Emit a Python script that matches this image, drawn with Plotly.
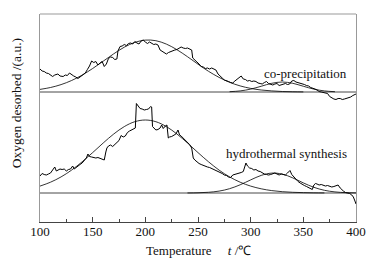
import plotly.graph_objects as go

# ---------------- data ----------------
# co-precipitation TPD trace (arbitrary units)
T_cop = [100, 102, 104, 106, 108, 110, 112, 114, 117, 119, 122, 124, 126, 128, 130, 132, 134, 136, 138, 141,
         143, 145, 147, 149, 151, 153, 155, 157, 159, 161, 163, 165, 167, 169, 171, 173, 174, 176, 178, 180,
         182, 184, 186, 188, 190, 192, 194, 196, 198, 200, 202, 204, 206, 208, 210, 212, 214, 216, 218, 220,
         222, 224, 226, 228, 230, 232, 234, 236, 238, 240, 242, 244, 245, 247, 249, 251, 253, 255, 257, 259,
         261, 263, 265, 267, 269, 271, 273, 275, 277, 279, 281, 283, 285, 287, 289, 291, 293, 295, 297, 299,
         301, 303, 305, 307, 309, 311, 313, 315, 317, 319, 321, 323, 325, 327, 329, 331, 333, 335, 337, 339,
         341, 343, 345, 347, 349, 351, 353, 355, 357, 359, 361, 363, 365, 367, 369, 371, 373, 375, 377, 379,
         381, 383, 385, 387, 389, 391, 393, 395, 397, 400]
V_cop = [153, 151, 150.5, 149, 148.5, 147, 145.5, 147, 148, 146, 145.5, 147, 146.5, 149, 147, 146, 145, 143.5, 145, 147,
         149, 152.5, 156, 161, 159.5, 160.5, 157, 159, 160.5, 155.5, 158, 163.5, 165, 164.5, 162.5, 163, 171, 175.5, 176, 177.5,
         176.5, 178.5, 179, 178, 180.5, 179, 178, 181, 182, 180, 178.5, 180, 179, 177.5, 178, 177, 172, 170.5, 169, 168,
         169.5, 170.5, 171, 172, 172.5, 174, 175, 174, 173.5, 174, 173, 172, 164, 161.5, 160, 158, 155.5, 155, 153.5, 154,
         153, 154, 153, 152, 148, 145.5, 144, 142, 141.5, 140.5, 139.5, 139, 141, 143, 144, 146, 143, 142.5, 141, 141.5,
         140.5, 141, 140.5, 139, 138.5, 138, 139.5, 140.5, 138.5, 137.5, 137, 138, 138.5, 136.5, 137, 138, 138.5, 137.5, 138, 141,
         141.5, 140, 139.5, 138.5, 138, 137.5, 136.5, 136, 134.5, 134, 133, 132, 130.5, 130, 129.5, 129, 128.5, 125.5, 124, 123,
         122.5, 123.5, 123.5, 122.5, 123, 123.5, 124.5, 125, 126.5, 128]

# hydrothermal-synthesis TPD trace (arbitrary units)
T_hyd = [100, 102, 104, 106, 108, 110, 112, 114, 115.5, 117, 119, 121, 123, 125, 127, 129, 131, 132.5, 134, 136,
         138, 140, 142, 144, 145.5, 147, 149, 151, 153, 155, 157, 159, 161, 162.5, 163.5, 165, 167, 169, 171, 173,
         175, 177, 179, 181, 183, 185, 187, 189, 190.5, 191.5, 193, 195, 197, 199, 201, 203, 205, 206, 206.8, 208,
         210, 212, 214, 215.5, 217, 219, 220.5, 221.8, 223, 225, 227, 229, 231, 232.5, 234, 236, 238, 240, 242, 244,
         245.5, 247, 249, 251, 253, 255, 257, 259, 261, 263, 265, 267, 269, 271, 273, 275, 277, 279, 281, 283,
         285, 287, 289, 291, 293, 295.5, 297, 299, 301, 303, 305, 307, 309, 311, 313, 315, 317, 319, 321, 323,
         325, 327, 329, 331, 333, 335, 337.3, 339, 341, 343, 345, 347, 349, 351, 353, 355, 357, 358.5, 360, 361.5,
         363, 365, 367, 369, 371, 373, 375, 377, 379, 381, 383, 385, 386.5, 388, 390, 392, 394, 396, 397.5, 399, 400]
V_hyd = [46, 48.5, 47.5, 47, 48, 49, 52, 55, 51, 52, 53, 52.5, 53, 51, 52.5, 53, 56, 53, 54, 55.5,
         57.5, 59, 61.5, 64, 68, 65.5, 65, 64.5, 64, 64.5, 63.5, 63, 62, 70, 74, 76, 77, 75.5, 77.5, 79,
         81.5, 86.5, 85, 86, 89.5, 91, 92, 93, 94, 118.5, 116, 113.5, 113, 112, 112.5, 113, 115.5, 115, 95.5, 94,
         92, 92.5, 94, 97, 93.5, 96, 97, 84, 85, 85.5, 86.5, 88, 92, 87, 86, 84, 82, 80, 77.5, 74,
         64, 62, 60, 58.5, 57.5, 56.5, 55.5, 55, 54.5, 53.5, 53, 52, 51, 49.5, 48.5, 47, 46.5, 45, 44.5, 47,
         47.5, 48.5, 49, 49.5, 50.5, 59, 56, 54, 53.5, 52, 52.5, 51, 50.5, 49, 48, 47.5, 47, 47.5, 48, 49,
         48, 47, 48, 47.5, 47, 49, 51.5, 47.5, 45, 42.5, 40.5, 39, 37.5, 36.5, 35.5, 34.5, 33, 32.5, 37, 38.5,
         38, 37, 37.5, 36.5, 36, 36.5, 35.5, 35, 35.5, 36, 37, 34, 32, 31, 29.5, 29, 28.5, 27, 25, 21, 18]

# fitted peak curves read at 10 degC steps
T_cop_fit1 = [100, 110, 120, 130, 140, 150, 160, 170, 180, 190, 200, 210, 220, 230, 240, 250,
              260, 270, 280, 290, 300, 310, 320, 330, 340, 350]
V_cop_fit1 = [132.6, 134.5, 137.4, 141.5, 146.9, 153.5, 160.8, 168.2, 174.8, 179.6, 181.9, 181.3, 177.9, 172.3, 165.3, 157.8,
              150.7, 144.6, 139.7, 136.1, 133.6, 132.0, 131.1, 130.5, 130.25, 130.1]
T_cop_fit2 = [280, 290, 300, 310, 320, 330, 340, 350, 360, 370, 380]
V_cop_fit2 = [130.31, 131.09, 132.87, 135.75, 138.7, 140.0, 138.7, 135.75, 132.87, 131.09, 130.31]
T_hyd_fit1 = [100, 110, 120, 130, 140, 150, 160, 170, 180, 190, 200, 210, 220, 230, 240, 250,
              260, 270, 280, 290, 300, 310, 320, 330, 340, 350, 360, 370]
V_hyd_fit1 = [35.9, 39.8, 45.1, 51.9, 60.2, 69.4, 79.0, 88.0, 95.4, 100.3, 102.0, 100.3, 95.4, 88.0, 79.0, 69.4,
              60.2, 51.9, 45.1, 39.8, 35.9, 33.2, 31.4, 30.3, 29.7, 29.36, 29.17, 29.08]
T_hyd_fit2 = [240, 250, 260, 270, 280, 290, 300, 310, 320, 330, 340, 350, 360, 370, 380, 390, 400]
V_hyd_fit2 = [29.06, 29.22, 29.71, 30.9, 33.3, 37.2, 42.1, 46.6, 48.9, 47.9, 44.1, 39.1, 34.7, 31.7, 30.1, 29.36, 29.1]

# baselines
baseline_T = [100, 400]
baseline_cop = [130, 130]
baseline_hyd = [29, 29]

x_ticks = [100, 150, 200, 250, 300, 350, 400]
labels = ["co-precipitation", "hydrothermal synthesis"]

FONT = "Liberation Serif"
LINE = "#000000"

fig = go.Figure()


def add_line(x, y, shape="linear", color=LINE, width=1):
    fig.add_trace(go.Scatter(x=x, y=y, mode="lines", line=dict(color=color, width=width, shape=shape),
                             showlegend=False, hoverinfo="skip"))


add_line(baseline_T, baseline_cop, color="#333333", width=0.9)
add_line(baseline_T, baseline_hyd, color="#333333", width=0.9)
add_line(T_cop_fit1, V_cop_fit1, shape="spline", width=0.8)
add_line(T_cop_fit2, V_cop_fit2, shape="spline", width=0.8)
add_line(T_hyd_fit1, V_hyd_fit1, shape="spline", width=0.8)
add_line(T_hyd_fit2, V_hyd_fit2, shape="spline", width=0.8)
add_line(T_cop, V_cop, width=1)
add_line(T_hyd, V_hyd, width=1)

# page body adds an 8px offset, so the figure is 8px smaller and margins shifted
fig.update_layout(
    width=373, height=255,
    margin=dict(l=32, r=25, t=6, b=41),
    paper_bgcolor="white", plot_bgcolor="white",
    font=dict(family=FONT, size=13, color="#111111"),
    showlegend=False,
)

fig.update_xaxes(
    range=[100, 400], tickvals=x_ticks, ticktext=[str(v) for v in x_ticks],
    ticks="inside", ticklen=5, tickwidth=1, tickcolor="#444444",
    minor=dict(dtick=25, tick0=100, ticks="inside", ticklen=3, tickcolor="#444444"),
    showline=True, linecolor="#444444", linewidth=1, mirror=False,
    showgrid=False, zeroline=False, ticklabelstandoff=-3,
    tickfont=dict(family=FONT, size=13, color="#111111"),
)
fig.update_yaxes(
    range=[0, 208], showticklabels=False, ticks="",
    showline=True, linecolor="#999999", linewidth=1, mirror=True,
    showgrid=False, zeroline=False,
)

# top frame line
fig.add_shape(type="line", xref="paper", yref="paper", x0=0, x1=1, y0=1, y1=1,
              line=dict(color="#999999", width=1))

fig.add_annotation(x=351.6, y=149, xref="x", yref="y", text=labels[0], showarrow=False,
                   font=dict(family=FONT, size=13, color="#111111"))
fig.add_annotation(x=333.9, y=69, xref="x", yref="y", text=labels[1], showarrow=False,
                   font=dict(family=FONT, size=13, color="#111111"))

fig.add_annotation(x=0.5, y=-0.135, xref="paper", yref="paper", yanchor="middle",
                   text="Temperature&nbsp;&nbsp;&nbsp;&nbsp;&nbsp;<i>t</i> /℃", showarrow=False,
                   font=dict(family=FONT, size=13, color="#111111"))
fig.add_annotation(x=-0.073, y=0.57, xref="paper", yref="paper", xanchor="center", yanchor="middle",
                   text="Oxygen desorbed /(a.u.)", textangle=-90, showarrow=False, borderpad=0,
                   font=dict(family=FONT, size=13.5, color="#111111"))

fig.write_html("out.html")
